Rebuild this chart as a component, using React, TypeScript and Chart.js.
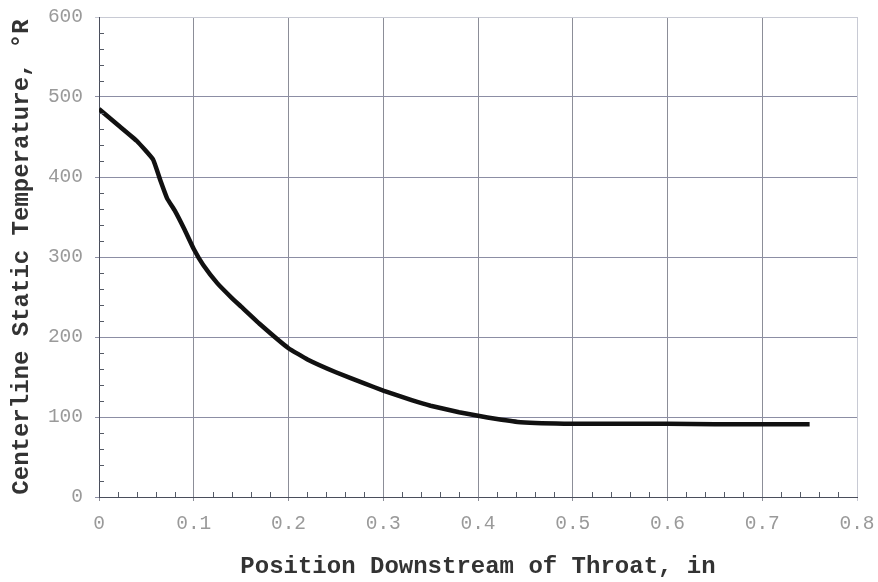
import React, { useEffect, useRef } from "react";
import { Chart, registerables } from "chart.js";

Chart.register(...registerables);

const positions = [0, 0.02, 0.04, 0.057, 0.065, 0.072, 0.08, 0.09, 0.1, 0.11, 0.125, 0.14, 0.15, 0.17, 0.2, 0.22, 0.25, 0.28, 0.3, 0.33, 0.35, 0.38, 0.4, 0.42, 0.445, 0.5, 0.55, 0.6, 0.65, 0.7, 0.75];
const temperatures = [485, 465, 445, 422, 395, 373, 358, 335, 310, 290, 267, 249, 238, 216, 186, 172, 156, 142, 133, 121, 114, 106, 101.5, 97.5, 93.5, 91.5, 91.5, 91.5, 91, 91, 91];
const xTicks = [0, 0.1, 0.2, 0.3, 0.4, 0.5, 0.6, 0.7, 0.8];
const yTicks = [0, 100, 200, 300, 400, 500, 600];

const minorTicks = {
  id: "minorTicks",
  afterDraw(chart: any) {
    const { ctx, scales } = chart;
    const xs = scales.x;
    const ys = scales.y;
    ctx.save();
    ctx.strokeStyle = "#555a66";
    ctx.lineWidth = 1;
    ctx.beginPath();
    for (let v = 0; v <= 600; v += 20) {
      if (v % 100 === 0) continue;
      const py = Math.round(ys.getPixelForValue(v)) + 0.5;
      ctx.moveTo(xs.left, py);
      ctx.lineTo(xs.left + 5, py);
    }
    for (let i = 0; i <= 40; i++) {
      if (i % 5 === 0) continue;
      const px = Math.round(xs.getPixelForValue(i * 0.02)) + 0.5;
      ctx.moveTo(px, ys.bottom);
      ctx.lineTo(px, ys.bottom - 5);
    }
    ctx.stroke();
    ctx.restore();
  },
};

export default function App() {
  const ref = useRef<HTMLCanvasElement>(null);
  useEffect(() => {
    document.body.style.margin = "0";
    const chart = new Chart(ref.current!, {
      type: "line",
      data: {
        datasets: [
          {
            data: positions.map((x, i) => ({ x, y: temperatures[i] })),
            borderColor: "#111111",
            borderWidth: 4.5,
            pointRadius: 0,
            tension: 0.1,
            fill: false,
          },
        ],
      },
      options: {
        animation: false,
        responsive: false,
        maintainAspectRatio: false,
        layout: { padding: { top: 17, right: 21, left: 0, bottom: 0 } },
        plugins: { legend: { display: false }, tooltip: { enabled: false } },
        scales: {
          x: {
            type: "linear",
            min: 0,
            max: 0.8,
            afterBuildTicks: (s: any) => {
              s.ticks = xTicks.map((v) => ({ value: v }));
            },
            afterFit: (s: any) => {
              s.height = 85;
              s.paddingLeft = 0;
              s.paddingRight = 0;
            },
            ticks: {
              color: "#9a9a9a",
              font: { family: "Liberation Mono", size: 19.5 },
              padding: 11,
              callback: (v: any) => String(v),
            },
            grid: {
              color: (c: any) => (c.tick && c.tick.value === 0.8 ? "#c8cad4" : "#8c8e98"),
              lineWidth: 1,
              tickLength: 4,
            },
            border: { color: "#4a4e5c", width: 1 },
            title: {
              display: true,
              text: "Position Downstream of Throat, in",
              color: "#333333",
              font: { family: "Liberation Mono", size: 24, weight: "bold" },
              padding: { top: 0, bottom: 1 },
            },
          },
          y: {
            type: "linear",
            min: 0,
            max: 600,
            afterBuildTicks: (s: any) => {
              s.ticks = yTicks.map((v) => ({ value: v }));
            },
            afterFit: (s: any) => {
              s.width = 99;
              s.paddingTop = 0;
              s.paddingBottom = 0;
            },
            ticks: {
              color: "#9a9a9a",
              font: { family: "Liberation Mono", size: 19.5 },
              padding: 12,
            },
            grid: {
              color: (c: any) => (c.tick && c.tick.value === 600 ? "#c8cad4" : "#8c8ea4"),
              lineWidth: 1,
              tickLength: 4,
            },
            border: { color: "#4a4e5c", width: 1 },
            title: {
              display: true,
              text: "Centerline Static Temperature, °R",
              color: "#333333",
              font: { family: "Liberation Mono", size: 24, weight: "bold" },
              padding: { top: 8, bottom: 0 },
            },
          },
        },
      },
      plugins: [minorTicks],
    });
    return () => chart.destroy();
  }, []);
  return <canvas ref={ref} width={878} height={582} style={{ display: "block" }} />;
}
